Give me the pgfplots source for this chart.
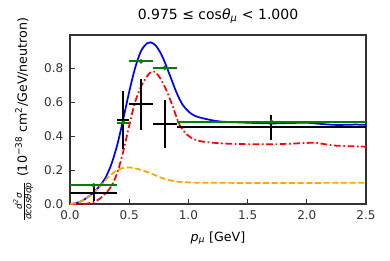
\documentclass[border=0pt]{standalone}
\usepackage{fontspec}
\setmainfont{DejaVu Sans}
\usepackage{amsmath}
\usepackage{pgfplots}
\pgfplotsset{compat=1.18}
\definecolor{axgray}{HTML}{333333}
\definecolor{mgreen}{RGB}{0,128,0}
\definecolor{morange}{RGB}{255,165,0}

\pgfplotstableread{
x y
0 0
0.05 0.005
0.1 0.018
0.15 0.04
0.2 0.068
0.25 0.105
0.3 0.155
0.35 0.235
0.4 0.35
0.45 0.5
0.5 0.66
0.55 0.8
0.6 0.9
0.65 0.945
0.68 0.951
0.72 0.935
0.76 0.895
0.8 0.835
0.85 0.745
0.9 0.655
0.95 0.585
1.0 0.545
1.05 0.52
1.13 0.503
1.27 0.485
1.5 0.478
1.7 0.474
1.85 0.476
2.0 0.478
2.1 0.472
2.25 0.465
2.4 0.467
2.5 0.466
}\tblblue

\pgfplotstableread{
x y
0 0
0.1 0.0
0.15 0.003
0.2 0.012
0.25 0.03
0.3 0.062
0.35 0.105
0.4 0.185
0.45 0.31
0.5 0.46
0.55 0.6
0.6 0.69
0.65 0.75
0.69 0.78
0.73 0.77
0.77 0.73
0.82 0.66
0.87 0.57
0.9 0.51
0.93 0.46
0.985 0.41
1.05 0.38
1.13 0.366
1.27 0.357
1.41 0.353
1.69 0.351
1.9 0.356
2.06 0.36
2.15 0.352
2.25 0.343
2.5 0.337
}\tblred

\pgfplotstableread{
x y
0 0
0.05 0.005
0.1 0.018
0.15 0.038
0.2 0.065
0.25 0.1
0.3 0.14
0.35 0.175
0.4 0.2
0.45 0.212
0.49 0.215
0.55 0.21
0.62 0.196
0.7 0.175
0.76 0.157
0.83 0.142
0.9 0.132
1.0 0.127
1.13 0.125
1.5 0.124
2.0 0.124
2.5 0.125
}\tblorange

\pgfplotstableread{
x y ex ey
0.2 0.067 0.2 0.05
0.45 0.494 0.05 0.17
0.6 0.586 0.1 0.15
0.8 0.47 0.1 0.14
1.7 0.45 0.8 0.075
}\tblblack

\pgfplotstableread{
x y ex
0.2 0.11 0.2
0.45 0.478 0.05
0.6 0.839 0.1
0.8 0.80 0.1
1.7 0.484 0.8
}\tblgreen

\begin{document}
\begin{tikzpicture}
\begin{axis}[
  scale only axis,
  width=222pt, height=126.75pt,
  xmin=0, xmax=2.5, ymin=0, ymax=0.994,
  xtick={0,0.5,1.0,1.5,2.0,2.5},
  ytick={0,0.2,0.4,0.6,0.8},
  xticklabel style={/pgf/number format/fixed,/pgf/number format/fixed zerofill,/pgf/number format/precision=1, yshift=-1.5pt},
  yticklabel style={/pgf/number format/fixed,/pgf/number format/fixed zerofill,/pgf/number format/precision=1, xshift=-1.5pt},
  /pgf/number format/assume math mode=true,
  ticklabel style={font=\fontsize{9}{10}\selectfont, text=axgray},
  tick align=inside,
  xtick pos=bottom, ytick pos=left,
  major tick length=3.5pt,
  tick style={axgray, line width=0.7pt},
  axis line style={axgray, line width=0.8pt},
  title={0.975 ≤ cos\textit{θ}\textsubscript{\textit{μ}} < 1.000},
  title style={font=\fontsize{10.5}{12}\selectfont, yshift=-1pt},
  xlabel={\textit{p}\textsubscript{\textit{μ}} [GeV]},
  xlabel style={font=\fontsize{9.5}{11}\selectfont, at={(axis description cs:0.5,-0.135)}, anchor=north},
  ylabel={$\frac{\text{\itshape d\textsuperscript{2}σ}}{\text{\itshape dcosθdp}}$ (10\textsuperscript{−38} cm\textsuperscript{2}/GeV/neutron)},
  ylabel style={font=\fontsize{9.5}{11}\selectfont, at={(axis description cs:-0.108,0.5)}, anchor=south},
]
\addplot[blue, line width=1.3pt, smooth, tension=0.5] table[x=x,y=y] {\tblblue};
\addplot[red, line width=1.3pt, smooth, tension=0.5, dash pattern=on 5pt off 2pt on 1.2pt off 2pt] table[x=x,y=y] {\tblred};
\addplot[morange, line width=1.3pt, smooth, tension=0.5, dash pattern=on 4.5pt off 2pt] table[x=x,y=y] {\tblorange};
\addplot[mgreen, line width=1.5pt, draw=none, mark=*, mark size=0.8pt,
  error bars/.cd, x dir=both, x explicit, error mark=none,
  error bar style={line width=1.5pt, mgreen, solid}] table[x=x,y=y,x error=ex] {\tblgreen};
\addplot[black, line width=1.5pt, draw=none, mark=none,
  error bars/.cd, x dir=both, x explicit, y dir=both, y explicit, error mark=none,
  error bar style={line width=1.5pt, black, solid}] table[x=x,y=y,x error=ex,y error=ey] {\tblblack};
\end{axis}
\path ([xshift=-52.5pt,yshift=-42pt]current axis.south west) rectangle ([xshift=18pt,yshift=26.25pt]current axis.north east);
\end{tikzpicture}
\end{document}
